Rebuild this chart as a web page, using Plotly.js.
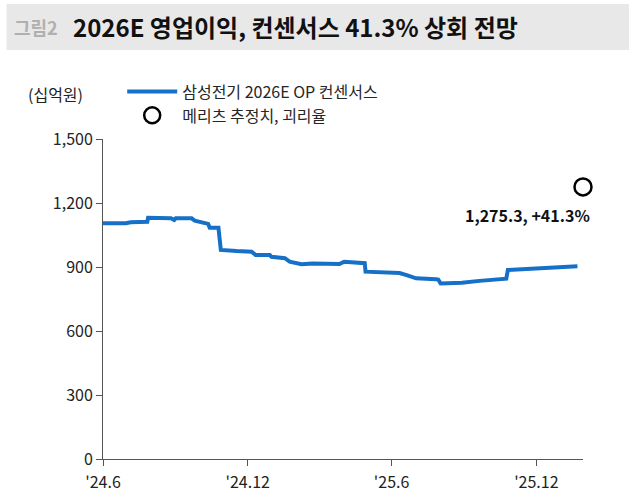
<!DOCTYPE html>
<html>
<head>
<meta charset="utf-8">
<script src="https://cdn.plot.ly/plotly-3.0.1.min.js"></script>
<style>
html,body{margin:0;padding:0;background:#fff;}
#chart{width:629px;height:502px;}
</style>
</head>
<body>
<div id="chart"></div>
<script>
// Consensus OP (KRW bn) by date
const dates = ['2024-06-01','2024-06-30','2024-07-06','2024-07-25','2024-07-27','2024-07-28','2024-08-26','2024-08-30','2024-09-01','2024-09-21','2024-09-25','2024-10-12','2024-10-14','2024-10-25','2024-10-28','2024-11-17','2024-12-06','2024-12-11','2024-12-29','2024-12-31','2025-01-17','2025-01-23','2025-02-01','2025-02-07','2025-02-21','2025-03-27','2025-04-02','2025-04-25','2025-04-28','2025-04-29','2025-06-11','2025-06-20','2025-07-02','2025-07-27','2025-07-30','2025-08-02','2025-08-29','2025-09-20','2025-10-24','2025-10-26','2025-12-01','2025-12-30','2026-01-22'];
const consensus = [1105,1105,1110,1112,1112,1131,1128,1120,1128,1128,1117,1102,1084,1084,980,975,972,956,956,948,941,925,917,913,916,914,925,920,918,878,872,862,847,842,841,823,826,835,845,886,893,900,903];
const meritzDate = ['2026-01-29'];
const meritzValue = [1275.3];
const meritzGap = ['+41.3%'];
const tickDates = ['2024-06-01','2024-12-01','2025-06-01','2025-12-01'];
const tickLabels = ["'24.6","'24.12","'25.6","'25.12"];
const yTicks = [0,300,600,900,1200,1500];
const seriesNames = ['삼성전기 2026E OP 컨센서스','메리츠 추정치, 괴리율'];

const font = "'Noto Sans CJK KR', 'Noto Sans', sans-serif";

const traces = [
  {
    x: dates, y: consensus, type: 'scatter', mode: 'lines',
    name: seriesNames[0],
    line: {color: '#1670C8', width: 4}
  },
  {
    x: meritzDate, y: meritzValue, type: 'scatter', mode: 'markers',
    name: seriesNames[1], cliponaxis: false,
    marker: {symbol: 'circle-open', size: 17, color: '#000', line: {width: 2.5, color: '#000'}}
  }
];

const fmt = v => v.toLocaleString('en-US', {minimumFractionDigits: 1, maximumFractionDigits: 1});

const layout = {
  width: 629, height: 502,
  margin: {l: 103, r: 46, t: 139, b: 43},
  paper_bgcolor: '#fff', plot_bgcolor: '#fff',
  font: {family: font, size: 16, color: '#222'},
  showlegend: true,
  legend: {
    x: 0.04, y: 1.02, xanchor: 'left', yanchor: 'bottom',
    bgcolor: 'rgba(0,0,0,0)', font: {size: 16, color: '#262626'},
    tracegroupgap: 0, itemwidth: 50
  },
  xaxis: {
    type: 'date', range: ['2024-06-01','2026-01-29'],
    tickvals: tickDates, ticktext: tickLabels,
    showgrid: false, zeroline: false,
    showline: true, linecolor: '#555', linewidth: 1,
    ticks: 'outside', ticklen: 6, tickcolor: '#555',
    ticklabelstandoff: 3,
    tickfont: {size: 16, color: '#222'}
  },
  yaxis: {
    range: [0, 1500], tickvals: yTicks, tickformat: ',d',
    showgrid: false, zeroline: false,
    showline: true, linecolor: '#555', linewidth: 1,
    ticks: 'outside', ticklen: 6, tickcolor: '#555',
    tickfont: {size: 16, color: '#222'}
  },
  shapes: [
    {type: 'rect', xref: 'paper', yref: 'paper', x0: -0.201, x1: 1.2, y0: 1.278, y1: 1.422,
      fillcolor: '#e8e8e8', line: {width: 0}, layer: 'below'}
  ],
  annotations: [
    {xref: 'paper', yref: 'paper', x: -0.19, y: 1.35, xanchor: 'left', yanchor: 'middle', showarrow: false,
      text: '<b>그림2</b>', font: {size: 18, color: '#b0b0b0'}},
    {xref: 'paper', yref: 'paper', x: -0.067, y: 1.35, xanchor: 'left', yanchor: 'middle', showarrow: false,
      text: '<b>2026E 영업이익, 컨센서스 41.3% 상회 전망</b>', font: {size: 24, color: '#111'}},
    {xref: 'paper', yref: 'paper', x: -0.16, y: 1.14, xanchor: 'left', yanchor: 'middle', showarrow: false,
      text: '(십억원)', font: {size: 16, color: '#222'}},
    {x: meritzDate[0], y: meritzValue[0], xanchor: 'center', yanchor: 'top', yshift: -14, xshift: -56,
      showarrow: false, text: '<b>' + fmt(meritzValue[0]) + ', ' + meritzGap[0] + '</b>',
      font: {size: 16, color: '#111'}}
  ]
};

Plotly.newPlot('chart', traces, layout, {displayModeBar: false, staticPlot: true});
</script>
</body>
</html>
